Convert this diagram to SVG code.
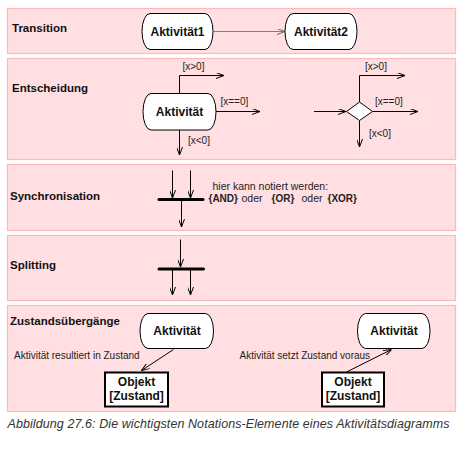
<svg xmlns="http://www.w3.org/2000/svg" width="468" height="455" viewBox="0 0 468 455">
<style>
.panel{fill:#ffdfe1;stroke:#ffb8bc;stroke-width:1.2}
.title{font-family:"Liberation Sans",Arial,sans-serif;font-weight:bold;font-size:11.5px;fill:#111}
.nt{font-family:"Liberation Sans",Arial,sans-serif;font-weight:bold;font-size:12px;fill:#111;text-anchor:middle}
.lbl{font-family:"Liberation Sans",Arial,sans-serif;font-size:10px;fill:#222}
.b{font-weight:bold}
.node{fill:#fff;stroke:#000;stroke-width:1}
.obj{fill:#fff;stroke:#000;stroke-width:2}
.ln{fill:none;stroke:#000;stroke-width:1}
.bar{stroke:#000;stroke-width:3;stroke-linecap:round}
.cap{font-family:"Liberation Sans",Arial,sans-serif;font-style:italic;font-size:12.5px;fill:#333}
</style>
<defs>
<marker id="arr" viewBox="0 0 8 6" refX="8" refY="3" markerWidth="8" markerHeight="6" orient="auto" markerUnits="userSpaceOnUse"><path d="M0,0 L8,3 L0,6" fill="none" stroke="#000" stroke-width="1"/></marker>
<marker id="arrg" viewBox="0 0 8 6" refX="8" refY="3" markerWidth="8" markerHeight="6" orient="auto" markerUnits="userSpaceOnUse"><path d="M0,0 L8,3 L0,6" fill="none" stroke="#666" stroke-width="1"/></marker>
</defs>
<g id="panels">
<rect class="panel" x="7.5" y="8.5" width="448" height="45"/>
<rect class="panel" x="7.5" y="58.5" width="448" height="101"/>
<rect class="panel" x="7.5" y="164.5" width="448" height="66"/>
<rect class="panel" x="7.5" y="235.5" width="448" height="65"/>
<rect class="panel" x="7.5" y="305.5" width="448" height="106"/>
</g>
<g id="titles">
<text class="title" x="12" y="32">Transition</text>
<text class="title" x="12" y="92">Entscheidung</text>
<text class="title" x="10" y="199.5">Synchronisation</text>
<text class="title" x="10" y="269">Splitting</text>
<text class="title" x="10" y="324.5">Zustandsübergänge</text>
</g>
<g id="connectors">
<line x1="213.5" y1="31.5" x2="285" y2="31.5" stroke="#666" stroke-width="0.8" marker-end="url(#arrg)"/>
<polyline class="ln" points="179.5,93.5 179.5,75.5 224,75.5" marker-end="url(#arr)"/>
<line class="ln" x1="216" y1="111.5" x2="260" y2="111.5" marker-end="url(#arr)"/>
<line class="ln" x1="179.5" y1="130" x2="179.5" y2="155" marker-end="url(#arr)"/>
<line class="ln" x1="314" y1="111.5" x2="346" y2="111.5" marker-end="url(#arr)"/>
<polyline class="ln" points="359.5,102 359.5,75.5 405,75.5" marker-end="url(#arr)"/>
<line class="ln" x1="372.5" y1="111.5" x2="418" y2="111.5" marker-end="url(#arr)"/>
<line class="ln" x1="359.5" y1="120.5" x2="359.5" y2="147" marker-end="url(#arr)"/>
<line class="ln" x1="172.5" y1="170.5" x2="172.5" y2="198" marker-end="url(#arr)"/>
<line class="ln" x1="190.5" y1="170.5" x2="190.5" y2="198" marker-end="url(#arr)"/>
<line class="ln" x1="181.5" y1="200" x2="181.5" y2="227" marker-end="url(#arr)"/>
<line class="ln" x1="180.5" y1="239.5" x2="180.5" y2="267" marker-end="url(#arr)"/>
<line class="ln" x1="172.5" y1="269" x2="172.5" y2="295" marker-end="url(#arr)"/>
<line class="ln" x1="190.5" y1="269" x2="190.5" y2="295" marker-end="url(#arr)"/>
<line class="ln" x1="173.5" y1="349.5" x2="141.5" y2="370.5" marker-end="url(#arr)"/>
<line class="ln" x1="346.5" y1="372" x2="391.5" y2="349.5" marker-end="url(#arr)"/>
</g>
<g id="labels">
<text class="lbl" x="182.5" y="70">[x&gt;0]</text>
<text class="lbl" x="220.5" y="105">[x==0]</text>
<text class="lbl" x="188" y="143.5">[x&lt;0]</text>
<text class="lbl" x="365" y="70">[x&gt;0]</text>
<text class="lbl" x="375" y="105">[x==0]</text>
<text class="lbl" x="369" y="137">[x&lt;0]</text>
<text class="lbl" x="212.5" y="189.5" style="font-size:10.5px">hier kann notiert werden:</text>
<text class="lbl" y="201.5"><tspan class="b" x="208.5">{AND}</tspan><tspan x="241.5" style="font-size:10.5px">oder</tspan><tspan class="b" x="271.5">{OR}</tspan><tspan x="301.5" style="font-size:10.5px">oder</tspan><tspan class="b" x="327.5">{XOR}</tspan></text>
<text class="lbl" x="14" y="358.5">Aktivität resultiert in Zustand</text>
<text class="lbl" x="239.5" y="358.5">Aktivität setzt Zustand voraus</text>
</g>
<g id="n-akt1"><path class="node" d="M150,13.5 H205 A8,18 0 0 1 205,49.5 H150 A8,18 0 0 1 150,13.5 Z"/><text class="nt" x="177.5" y="36">Aktivität1</text></g>
<g id="n-akt2"><path class="node" d="M293,13.5 H349 A8,18 0 0 1 349,49.5 H293 A8,18 0 0 1 293,13.5 Z"/><text class="nt" x="321" y="36">Aktivität2</text></g>
<g id="n-akt3"><path class="node" d="M151,93.5 H208 A8,18.25 0 0 1 208,130 H151 A8,18.25 0 0 1 151,93.5 Z"/><text class="nt" x="179.5" y="115.5">Aktivität</text></g>
<g id="n-diamond"><polygon class="node" points="359.5,102 372.5,111.5 359.5,120.5 346.5,111.5"/></g>
<g id="n-sync"><line class="bar" x1="159" y1="199.5" x2="203" y2="199.5"/></g>
<g id="n-split"><line class="bar" x1="159" y1="269" x2="203.5" y2="269"/></g>
<g id="n-akt4"><path class="node" d="M148,313.5 H205.5 A8,17.5 0 0 1 205.5,348.5 H148 A8,17.5 0 0 1 148,313.5 Z"/><text class="nt" x="177" y="335">Aktivität</text></g>
<g id="n-akt5"><path class="node" d="M365.5,313.5 H422 A8,17.5 0 0 1 422,348.5 H365.5 A8,17.5 0 0 1 365.5,313.5 Z"/><text class="nt" x="394" y="335">Aktivität</text></g>
<g id="n-obj1"><rect class="obj" x="105" y="372.5" width="63" height="34"/><text class="nt" x="136.5" y="386">Objekt</text><text class="nt" x="136.5" y="399.5">[Zustand]</text></g>
<g id="n-obj2"><rect class="obj" x="322" y="372.5" width="62" height="34"/><text class="nt" x="353" y="386">Objekt</text><text class="nt" x="353" y="399.5">[Zustand]</text></g>
<text class="cap" x="7.5" y="427.5" textLength="442" lengthAdjust="spacing">Abbildung 27.6: Die wichtigsten Notations-Elemente eines Aktivitätsdiagramms</text>
</svg>
